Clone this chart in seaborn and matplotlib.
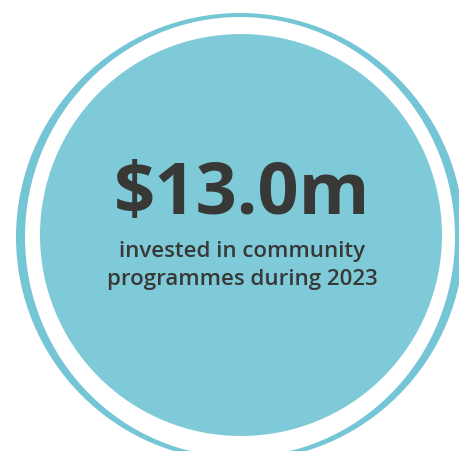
import matplotlib
matplotlib.use("Agg")
import matplotlib.pyplot as plt
import seaborn as sns
from matplotlib.patches import Circle, Ellipse

# data
amount = [13.0]
unit = ["m"]
year = [2023]
caption_lines = ["invested in community", "programmes during {}".format(year[0])]

# colours
fillColor = "#7ecad8"
ringColor = "#74c5d5"
textColor = "#383836"

sns.set_theme(style="white")
plt.rcParams['font.family'] = ['Open Sans', 'DejaVu Sans']

fig = plt.figure(figsize=(4.59, 4.52), dpi=100)
ax = fig.add_axes([0, 0, 1, 1])
ax.set_xlim(0, 459)
ax.set_ylim(452, 0)
ax.set_aspect("equal")
ax.axis("off")

# outer ring: thicker at the sides than top/bottom
ax.add_patch(Ellipse((240, 238), 2 * 224, 2 * 224, facecolor=ringColor, edgecolor="none"))
ax.add_patch(Ellipse((240, 238), 2 * 215, 2 * 220, facecolor="white", edgecolor="none"))
# main disc
ax.add_patch(Circle((241, 236), 201, facecolor=fillColor, edgecolor="none"))

headline = "${:.1f}{}".format(amount[0], unit[0])
ax.text(242, 195, headline, ha="center", va="center", fontsize=52,
        fontweight="bold", color=textColor)

for i, line in enumerate(caption_lines):
    ax.text(242, 251 + i * 29, line, ha="center", va="center", fontsize=16,
            fontweight="semibold", color=textColor)

fig.savefig("out.png", dpi=100)
